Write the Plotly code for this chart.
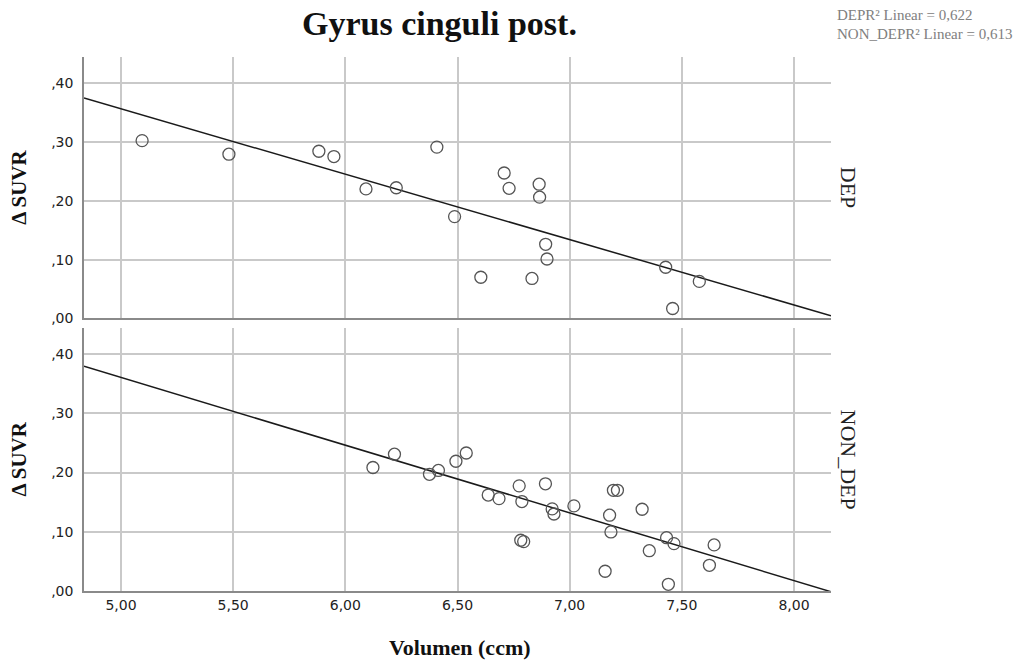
import plotly.graph_objects as go

# ---- data -------------------------------------------------------------
dep_volume = [5.094, 5.481, 5.882, 5.949, 6.092, 6.227, 6.408, 6.487, 6.604,
              6.708, 6.730, 6.832, 6.864, 6.866, 6.893, 6.899, 7.428, 7.459, 7.578]
dep_suvr = [0.302, 0.279, 0.284, 0.275, 0.220, 0.222, 0.291, 0.173, 0.070,
            0.247, 0.221, 0.068, 0.228, 0.206, 0.126, 0.101, 0.087, 0.017, 0.063]

non_dep_volume = [6.123, 6.219, 6.375, 6.415, 6.493, 6.539, 6.637, 6.685, 6.775,
                  6.787, 6.782, 6.795, 6.892, 6.922, 6.930, 7.019, 7.158, 7.178,
                  7.184, 7.195, 7.213, 7.323, 7.355, 7.432, 7.440, 7.465, 7.623, 7.644]
non_dep_suvr = [0.2085, 0.231, 0.197, 0.2035, 0.219, 0.233, 0.162, 0.156, 0.1775,
                0.151, 0.0857, 0.0834, 0.181, 0.1386, 0.130, 0.1437, 0.0333, 0.128,
                0.0997, 0.170, 0.170, 0.138, 0.068, 0.090, 0.0113, 0.080, 0.0434, 0.0778]

# linear fits (intercept, slope) and R² per group
dep_fit = (0.911, -0.111)
non_dep_fit = (0.932, -0.1143)
r2_labels = ["DEPR² Linear = 0,622", "NON_DEPR² Linear = 0,613"]

group_names = ["DEP", "NON_DEP"]

x_ticks = [5.0, 5.5, 6.0, 6.5, 7.0, 7.5, 8.0]
x_tick_text = ["5,00", "5,50", "6,00", "6,50", "7,00", "7,50", "8,00"]
y_ticks = [0.0, 0.1, 0.2, 0.3, 0.4]
y_tick_text = [",00", ",10", ",20", ",30", ",40"]

x_range = [4.835, 8.165]
y_range = [0.0, 0.444]

# ---- layout geometry (pixels) ----------------------------------------
W, H = 1026, 661
left, right = 84, 831
top_panel = (57.3, 318.5)
bottom_panel = (328.0, 590.7)
m_t, m_b = top_panel[0], H - bottom_panel[1]
plot_h = H - m_t - m_b
plot_w = right - left


def dom(py_top, py_bot):
    return [(bottom_panel[1] - py_bot) / plot_h, (bottom_panel[1] - py_top) / plot_h]


def px(x):
    """pixel column -> paper x"""
    return (x - left) / plot_w


def py(y):
    """pixel row -> paper y"""
    return (bottom_panel[1] - y) / plot_h


serif = "Liberation Serif, Times New Roman, serif"
sans = "DejaVu Sans, sans-serif"
grid_c = "#c9c9c9"
axis_c = "#8a8a8a"

fig = go.Figure()

panels = [
    (dep_volume, dep_suvr, dep_fit, "x", "y"),
    (non_dep_volume, non_dep_suvr, non_dep_fit, "x2", "y2"),
]
for vol, suvr, (b0, b1), xa, ya in panels:
    fig.add_trace(go.Scatter(
        x=x_range, y=[b0 + b1 * x_range[0], b0 + b1 * x_range[1]],
        mode="lines", line=dict(color="#1a1a1a", width=1.5),
        xaxis=xa, yaxis=ya, showlegend=False, hoverinfo="skip"))
    fig.add_trace(go.Scatter(
        x=vol, y=suvr, mode="markers",
        marker=dict(symbol="circle-open", size=12, color="#555555",
                    line=dict(width=1.3, color="#555555")),
        xaxis=xa, yaxis=ya, showlegend=False))

xaxis_common = dict(range=x_range, tickvals=x_ticks, showgrid=True,
                    gridcolor=grid_c, gridwidth=1.5, zeroline=False,
                    showline=True, linecolor=axis_c, linewidth=1.5,
                    ticks="", mirror=False)
yaxis_common = dict(range=y_range, tickvals=y_ticks, ticktext=y_tick_text,
                    showgrid=True, gridcolor=grid_c, gridwidth=1.5,
                    zeroline=False, showline=True, linecolor=axis_c,
                    linewidth=1.5, ticks="", mirror=False,
                    tickfont=dict(family=sans, size=14, color="#222222"),
                    ticklabelstandoff=6)

fig.update_layout(
    width=W, height=H,
    margin=dict(l=left, r=W - right, t=m_t, b=m_b),
    paper_bgcolor="white", plot_bgcolor="white",
    xaxis=dict(**xaxis_common, anchor="y", showticklabels=False),
    yaxis=dict(**yaxis_common, domain=dom(*top_panel), anchor="x"),
    xaxis2=dict(**xaxis_common, anchor="y2", ticktext=x_tick_text,
                tickfont=dict(family=sans, size=14, color="#222222")),
    yaxis2=dict(**yaxis_common, domain=dom(*bottom_panel), anchor="x2"),
)

annotations = [
    dict(text="<b>Gyrus cinguli post.</b>", x=px(439), y=py(24),
         font=dict(family=serif, size=34, color="#111111")),
    dict(text="<b>Volumen (ccm)</b>", x=px(460), y=py(647),
         font=dict(family=serif, size=22, color="#111111")),
    dict(text="<b>Δ SUVR</b>", x=px(19), y=py(sum(top_panel) / 2),
         textangle=-90, font=dict(family=serif, size=21, color="#111111")),
    dict(text="<b>Δ SUVR</b>", x=px(19), y=py(sum(bottom_panel) / 2),
         textangle=-90, font=dict(family=serif, size=21, color="#111111")),
    dict(text=group_names[0], x=px(848), y=py(sum(top_panel) / 2),
         textangle=90, font=dict(family=serif, size=22, color="#222222")),
    dict(text=group_names[1], x=px(848), y=py(sum(bottom_panel) / 2),
         textangle=90, font=dict(family=serif, size=22, color="#222222")),
]
for i, label in enumerate(r2_labels):
    annotations.append(dict(text=label, x=px(835), y=py(15 + 19 * i),
                            xanchor="left",
                            font=dict(family=serif, size=15, color="#808080")))

for a in annotations:
    a.setdefault("xref", "paper")
    a.setdefault("yref", "paper")
    a.setdefault("showarrow", False)
    a.setdefault("xanchor", "center")
    a.setdefault("yanchor", "middle")

fig.update_layout(annotations=annotations)

fig.write_html("out.html")
